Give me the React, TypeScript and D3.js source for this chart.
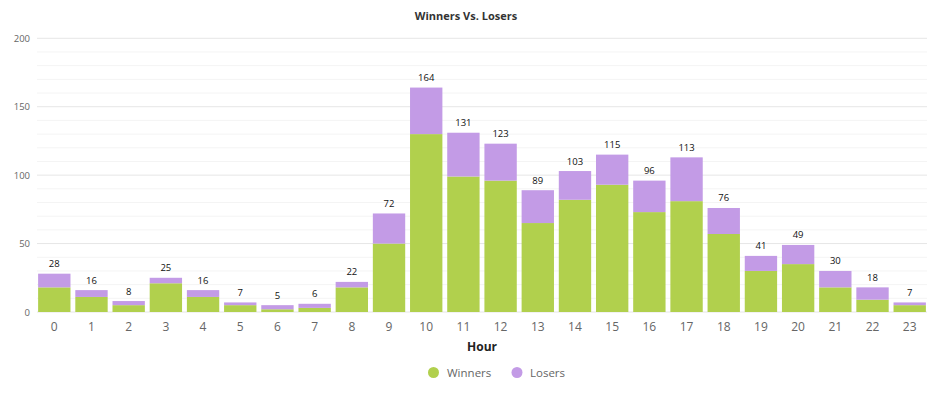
import * as d3 from 'd3'

const hours = d3.range(24).map(String)
const winners = [18, 11, 5, 21, 11, 5, 2, 3, 18, 50, 130, 99, 96, 65, 82, 93, 73, 81, 57, 30, 35, 18, 9, 5]
const losers = [10, 5, 3, 4, 5, 2, 3, 3, 4, 22, 34, 32, 27, 24, 21, 22, 23, 32, 19, 11, 14, 12, 9, 2]
const yTicks = [0, 50, 100, 150, 200]
const minorTicks = d3.range(0, 201, 10)

const W = 931
const H = 393
const font = '"Open Sans", "Noto Sans", sans-serif'
const green = '#b1d04d'
const purple = '#c39be6'

export default function App() {
  const x = d3.scaleBand().domain(hours).range([37, 927]).paddingInner(0.13).paddingOuter(0.03)
  const y = d3.scaleLinear().domain([0, 200]).range([312, 38.3])
  const totals = winners.map((w, i) => w + losers[i])

  return (
    <svg width={W} height={H} style={{ display: 'block', position: 'absolute', left: 0, top: 0 }}>
      <rect width={W} height={H} fill="#fff" />
      <text x={466} y={20} textAnchor="middle" fontFamily={font} fontSize={11} fontWeight="bold" fill="#333">
        Winners Vs. Losers
      </text>
      {minorTicks.map(t => (
        <line key={'m' + t} x1={37} x2={927} y1={y(t)} y2={y(t)} stroke={t % 50 === 0 ? '#e6e6e6' : '#f4f4f4'} strokeWidth={1} />
      ))}
      {yTicks.map(t => (
        <text key={t} x={30} y={y(t) + 3.5} textAnchor="end" fontFamily={font} fontSize={9.5} fill="#666">
          {t}
        </text>
      ))}
      {hours.map((h, i) => (
        <g key={h}>
          <rect x={x(h)} width={x.bandwidth()} y={y(winners[i])} height={y(0) - y(winners[i])} fill={green} />
          <rect x={x(h)} width={x.bandwidth()} y={y(totals[i])} height={y(winners[i]) - y(totals[i])} fill={purple} />
          <text x={x(h)! + x.bandwidth() / 2} y={y(totals[i]) - 6.5} textAnchor="middle" fontFamily={font} fontSize={9.5} fill="#111">
            {totals[i]}
          </text>
          <text x={x(h)! + x.bandwidth() / 2} y={331} textAnchor="middle" fontFamily={font} fontSize={12} fill="#666">
            {h}
          </text>
        </g>
      ))}
      <text x={482} y={351} textAnchor="middle" fontFamily={font} fontSize={12} fontWeight="bold" fill="#222">
        Hour
      </text>
      <circle cx={433.5} cy={372.5} r={5.5} fill={green} />
      <text x={447} y={377} fontFamily={font} fontSize={11.5} fill="#666">Winners</text>
      <circle cx={517} cy={372.5} r={5.5} fill={purple} />
      <text x={530} y={377} fontFamily={font} fontSize={11.5} fill="#666">Losers</text>
    </svg>
  )
}
